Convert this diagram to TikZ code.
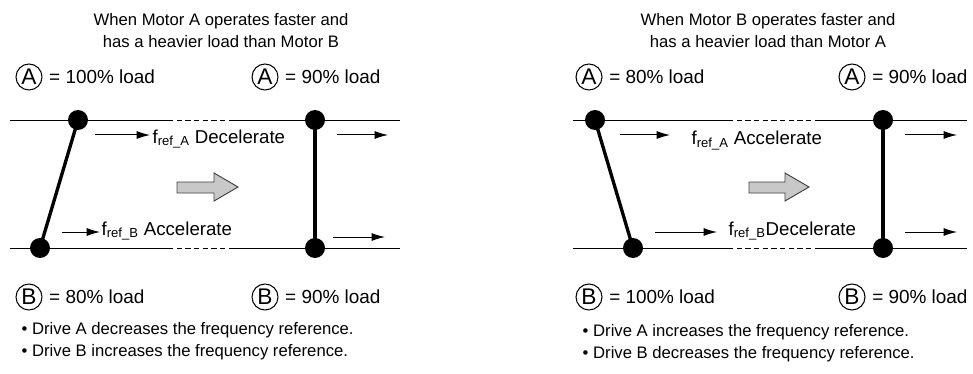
\documentclass[tikz,border=0pt]{standalone}
\usepackage{fontspec}
\setmainfont{Liberation Sans}
\usetikzlibrary{arrows.meta, positioning}
\definecolor{movegray}{HTML}{C8C8C8}
\definecolor{moveborder}{HTML}{404040}

\begin{document}
\begin{tikzpicture}[x=0.75pt, y=-0.75pt,
    every node/.style={font=\fontsize{12.5}{16.5}\selectfont},
    motor/.style={draw, circle, line width=0.8pt, inner sep=0pt,
      minimum size=19.5pt, font=\fontsize{17}{17}\selectfont},
    load/.style={right=1.5pt of #1, font=\fontsize{14.2}{16}\selectfont},
    joint/.style={circle, fill=black, inner sep=0pt, minimum size=15pt},
    belt/.style={line width=0.7pt},
    gap/.style={belt, dash pattern=on 4pt off 2.5pt},
    link/.style={line width=2.5pt},
    speed/.style={-{Latex[length=10pt,width=6pt]}, line width=0.75pt},
    freq/.style={anchor=base west, inner sep=1pt,
      font=\fontsize{14}{16}\selectfont},
    movearrow/.style={fill=movegray, draw=moveborder, line width=0.7pt},
    note/.style={anchor=west, align=left}
  ]
  \useasboundingbox (0,0) rectangle (973,374);

  % belts with the dashed gap
  \foreach \a/\b/\c/\d in {10/168/233/400, 573/728/817/967}
    \foreach \y in {120,248} {
      \draw[belt] (\a,\y) -- (\b,\y);
      \draw[gap] (\b,\y) -- (\c,\y);
      \draw[belt] (\c,\y) -- (\d,\y);
    }

  % left case
  \node[align=center] (titleL) at (221,31)
    {When Motor A operates faster and\\has a heavier load than Motor B};
  \node[motor] (mAL0) at (29,77) {A};
  \node[load=mAL0] (ldAL0) {= 100\% load};
  \node[motor] (mAL1) at (265,77) {A};
  \node[load=mAL1] (ldAL1) {= 90\% load};
  \node[motor] (mBL0) at (29,297) {B};
  \node[load=mBL0] (ldBL0) {= 80\% load};
  \node[motor] (mBL1) at (265,297) {B};
  \node[load=mBL1] (ldBL1) {= 90\% load};

  \node[joint] (jAL0) at (78,120) {};
  \node[joint] (jBL0) at (40,248) {};
  \node[joint] (jAL1) at (315,120) {};
  \node[joint] (jBL1) at (315,248) {};
  \draw[link] (jAL0.center) -- (jBL0.center);
  \draw[link] (jAL1.center) -- (jBL1.center);

  \coordinate (sAL0) at (95,135);  \coordinate (eAL0) at (150,135);
  \coordinate (sBL0) at (62,232);  \coordinate (eBL0) at (100,232);
  \coordinate (sAL1) at (337,135); \coordinate (eAL1) at (388,135);
  \coordinate (sBL1) at (333,237); \coordinate (eBL1) at (385,237);
  \draw[speed] (sAL0) -- (eAL0);
  \draw[speed] (sBL0) -- (eBL0);
  \draw[speed] (sAL1) -- (eAL1);
  \draw[speed] (sBL1) -- (eBL1);
  \node[freq] (fAL) at (151,143) {f\textsubscript{ref\_A} Decelerate};
  \node[freq] (fBL) at (100,235) {f\textsubscript{ref\_B} Accelerate};

  \draw[movearrow] (177,182) -- (214,182) -- (214,173) -- (238,187)
    -- (214,201) -- (214,193) -- (177,193) -- cycle;

  \node[note] (noteL) at (17,341)
    {\textbullet\ Drive A decreases the frequency reference.\\
     \textbullet\ Drive B increases the frequency reference.};

  % right case
  \node[align=center] (titleR) at (768,31)
    {When Motor B operates faster and\\has a heavier load than Motor A};
  \node[motor] (mAR0) at (589,77) {A};
  \node[load=mAR0] (ldAR0) {= 80\% load};
  \node[motor] (mAR1) at (852,77) {A};
  \node[load=mAR1] (ldAR1) {= 90\% load};
  \node[motor] (mBR0) at (589,297) {B};
  \node[load=mBR0] (ldBR0) {= 100\% load};
  \node[motor] (mBR1) at (852,297) {B};
  \node[load=mBR1] (ldBR1) {= 90\% load};

  \node[joint] (jAR0) at (595,120) {};
  \node[joint] (jBR0) at (633,248) {};
  \node[joint] (jAR1) at (883,120) {};
  \node[joint] (jBR1) at (883,248) {};
  \draw[link] (jAR0.center) -- (jBR0.center);
  \draw[link] (jAR1.center) -- (jBR1.center);

  \coordinate (sAR0) at (620,135); \coordinate (eAR0) at (670,135);
  \coordinate (sBR0) at (655,232); \coordinate (eBR0) at (717,232);
  \coordinate (sAR1) at (905,135); \coordinate (eAR1) at (957,135);
  \coordinate (sBR1) at (905,232); \coordinate (eBR1) at (957,232);
  \draw[speed] (sAR0) -- (eAR0);
  \draw[speed] (sBR0) -- (eBR0);
  \draw[speed] (sAR1) -- (eAR1);
  \draw[speed] (sBR1) -- (eBR1);
  \node[freq] (fAR) at (690,145) {f\textsubscript{ref\_A} Accelerate};
  \node[freq] (fBR) at (727,235) {f\textsubscript{ref\_B}Decelerate};

  \draw[movearrow] (749,182) -- (785,182) -- (785,173) -- (809,187)
    -- (785,201) -- (785,193) -- (749,193) -- cycle;

  \node[note] (noteR) at (578,343)
    {\textbullet\ Drive A increases the frequency reference.\\
     \textbullet\ Drive B decreases the frequency reference.};
\end{tikzpicture}
\end{document}
